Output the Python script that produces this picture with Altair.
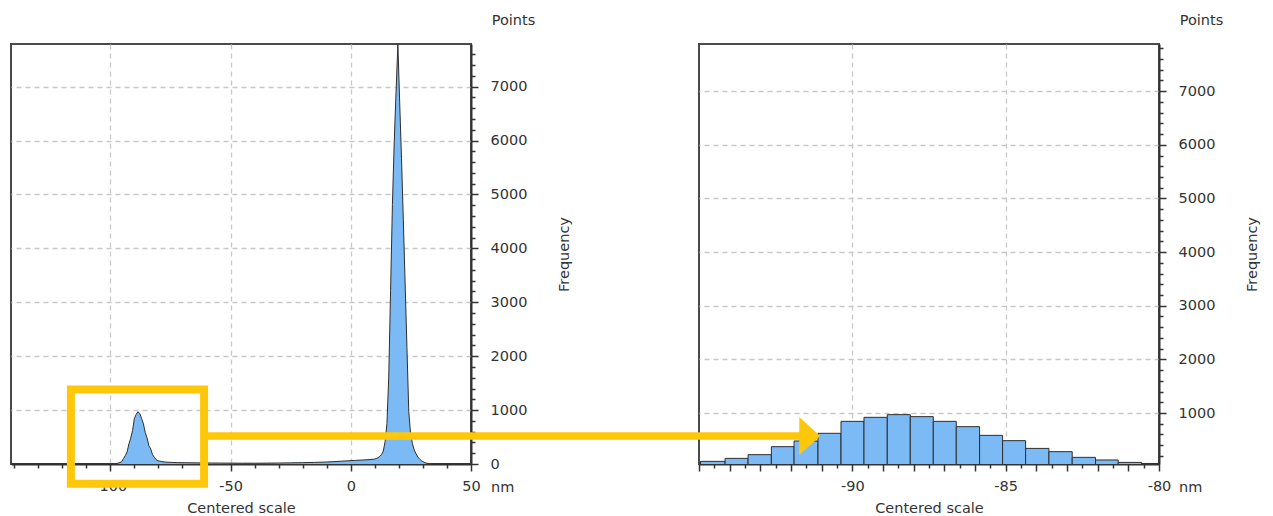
import altair as alt
import pandas as pd

FONT = "DejaVu Sans"
TEXT = "#333333"
BLUE = "#7BBAF5"
OUTLINE = "#2E2E2E"
YELLOW = "#FFC70A"
GRID = "#C8C8C8"

# ---- zoomed histogram (bins of ~0.76 nm around the -88 nm peak) ----
bin_edges = [-95.71, -94.95, -94.15, -93.40, -92.64, -91.90, -91.12, -90.37,
             -89.62, -88.86, -88.11, -87.36, -86.61, -85.85, -85.10, -84.35,
             -83.59, -82.83, -82.07, -81.33, -80.57, -79.81]
bin_counts = [40, 99, 155, 224, 373, 479, 622, 845, 920, 970, 933, 845, 746,
              584, 485, 341, 280, 174, 125, 80, 60]

# ---- full-range profile outside the zoomed bins ----
lead_x = [-141.3, -99.5, -98.2, -97.2, -96.4]
lead_y = [0, 0, 4, 10, 22]
rest_x = [-79.4, -78.6, -77.5, -76, -74, -72, -69, -66, -62, -58, -54, -50,
          -45, -40, -35, -30, -25, -20, -15, -10, -7, -4, -1, 2, 5, 8, 10,
          11.27, 12.02, 12.78, 13.54, 14.29, 15.05, 15.80, 16.56, 17.32, 18.07,
          18.83, 19.59, 20.34, 21.10, 21.85, 22.61, 23.36, 24.12, 24.88, 25.63,
          26.39, 27.14, 27.90, 28.65, 29.41, 30.17, 30.92, 31.68, 32.43, 33.19,
          35, 38, 50]
rest_y = [52, 46, 38, 32, 29, 26, 24, 22, 20, 18, 17, 16, 15, 15, 16, 18, 21,
          25, 30, 37, 44, 52, 60, 67, 74, 82, 92, 115, 140, 175, 240, 420, 750,
          1630, 3220, 4810, 5975, 6900, 7790, 6710, 5670, 4540, 3340, 2160, 970,
          560, 380, 260, 190, 130, 90, 60, 40, 25, 15, 10, 5, 2, 0, 0]

# axis ranges
left_x_domain = [-141.3, 50]
left_y_domain = [0, 7790]
right_x_domain = [-95, -80]
right_y_domain = [50, 7880]

# highlighted region and the arrow pointing to the zoomed view
box = {"x": -116.4, "x2": -61.0, "y": -367, "y2": 1382}
arrow = {"x": -111.1, "x2": -91.7, "head": -91.39, "y": 571}

W, H = 460, 420

centers = [(a + b) / 2 for a, b in zip(bin_edges[:-1], bin_edges[1:])]
profile = pd.DataFrame({
    "x": lead_x + centers + rest_x,
    "y": lead_y + bin_counts + rest_y,
})
bars = pd.DataFrame({"x": bin_edges[:-1], "x2": bin_edges[1:], "y": bin_counts})


def y_axis(values):
    return alt.Axis(
        orient="right",
        values=values,
        labelExpr="datum.value % 1000 == 0 ? '' + datum.value : ''",
        tickSize={"condition": {"test": "datum.value % 1000 == 0", "value": 7}, "value": 4},
        gridOpacity={"condition": {"test": "datum.value % 1000 == 0 && datum.value > 0",
                                   "value": 1}, "value": 0},
        labelPadding=12, labelAlign="left", labelBaseline="middle",
        labelFlush=False, labelOverlap=False,
        title="Frequency", titleAngle=270, titleX=93, titleY=H / 2,
        titleAlign="center", titleBaseline="middle",
    )


def side_texts(width):
    pts = alt.Chart(pd.DataFrame({"t": ["Points"]})).mark_text(
        font=FONT, fontSize=14.5, color=TEXT, align="center", baseline="middle"
    ).encode(x=alt.value(width + 42.5), y=alt.value(-23), text="t:N")
    unit = alt.Chart(pd.DataFrame({"t": ["nm"]})).mark_text(
        font=FONT, fontSize=14.5, color=TEXT, align="left", baseline="middle", dx=20
    ).encode(x=alt.value(width), y=alt.value(H + 23.5), text="t:N")
    return pts, unit


# ---------------- left panel: whole range ----------------
lx_axis = alt.Axis(
    values=list(range(-140, 51, 10)),
    labelExpr="datum.value % 50 == 0 ? '' + datum.value : ''",
    tickSize={"condition": {"test": "datum.value % 50 == 0", "value": 7}, "value": 4},
    gridOpacity={"condition": {"test": "datum.value % 50 == 0 && datum.value < 50",
                               "value": 1}, "value": 0},
    labelPadding=8, labelFlush=False, labelOverlap=False,
    title="Centered scale", titleY=44, titleBaseline="middle",
)
ly_axis = y_axis(list(range(0, 7601, 200)))
lx_scale = alt.Scale(domain=left_x_domain, nice=False, zero=False)
ly_scale = alt.Scale(domain=left_y_domain, nice=False, zero=False)

area = alt.Chart(profile).mark_area(
    color=BLUE, opacity=1, line={"color": OUTLINE, "strokeWidth": 1}
).encode(
    x=alt.X("x:Q", scale=lx_scale, axis=lx_axis),
    y=alt.Y("y:Q", scale=ly_scale, axis=ly_axis),
)

box_mark = alt.Chart(pd.DataFrame([box])).mark_rect(
    fillOpacity=0, stroke=YELLOW, strokeWidth=8
).encode(
    x=alt.X("x:Q", scale=lx_scale, axis=lx_axis), x2="x2:Q",
    y=alt.Y("y:Q", scale=ly_scale, axis=ly_axis), y2="y2:Q",
)

pts_l, unit_l = side_texts(W)
left = alt.layer(area, box_mark, pts_l, unit_l).properties(width=W, height=H)

# ---------------- right panel: zoomed histogram ----------------
rx_axis = alt.Axis(
    values=[-95 + 0.5 * i for i in range(31)],
    labelExpr="datum.value % 5 == 0 && datum.value > -95 ? '' + datum.value : ''",
    tickSize={"condition": {"test": "datum.value % 1 == 0", "value": 7}, "value": 4},
    gridOpacity={"condition": {"test": "datum.value % 5 == 0 && datum.value > -95 && datum.value < -80",
                               "value": 1}, "value": 0},
    labelPadding=8, labelFlush=False, labelOverlap=False,
    title="Centered scale", titleY=44, titleBaseline="middle",
)
ry_axis = y_axis(list(range(200, 7801, 200)))
rx_scale = alt.Scale(domain=right_x_domain, nice=False, zero=False)
ry_scale = alt.Scale(domain=right_y_domain, nice=False, zero=False)

bar_mark = alt.Chart(bars).mark_bar(
    color=BLUE, stroke=OUTLINE, strokeWidth=1, clip=True
).encode(
    x=alt.X("x:Q", scale=rx_scale, axis=rx_axis),
    x2="x2:Q",
    y=alt.Y("y:Q", scale=ry_scale, axis=ry_axis),
    y2=alt.datum(0),
)

arrow_df = pd.DataFrame([arrow])
arrow_line = alt.Chart(arrow_df).mark_rule(color=YELLOW, strokeWidth=7.5).encode(
    x=alt.X("x:Q", scale=rx_scale, axis=rx_axis), x2="x2:Q",
    y=alt.Y("y:Q", scale=ry_scale, axis=ry_axis),
)
arrow_head = alt.Chart(arrow_df).mark_point(
    shape="M-0.55,-1L0.55,0L-0.55,1Z", filled=True, color=YELLOW, opacity=1,
    size=1444, strokeWidth=0
).encode(
    x=alt.X("head:Q", scale=rx_scale, axis=rx_axis),
    y=alt.Y("y:Q", scale=ry_scale, axis=ry_axis),
)

pts_r, unit_r = side_texts(W)
right = alt.layer(bar_mark, arrow_line, arrow_head, pts_r, unit_r).properties(width=W, height=H)

chart = alt.hconcat(left, right, spacing=228, bounds="flush").properties(
    padding={"left": 8, "top": 12, "right": 5, "bottom": 5},
    background="white",
).configure_view(
    stroke="#4A4A4A", strokeWidth=2
).configure_axis(
    domainColor="#333333", domainWidth=2,
    tickColor="#333333", tickWidth=1.5,
    gridColor=GRID, gridDash=[5, 4], gridWidth=1.3,
    labelFont=FONT, labelFontSize=14.5, labelColor=TEXT,
    titleFont=FONT, titleFontSize=14.5, titleColor=TEXT, titleFontWeight="normal",
)

chart.save("out.html", embed_options={"renderer": "svg", "actions": False})
